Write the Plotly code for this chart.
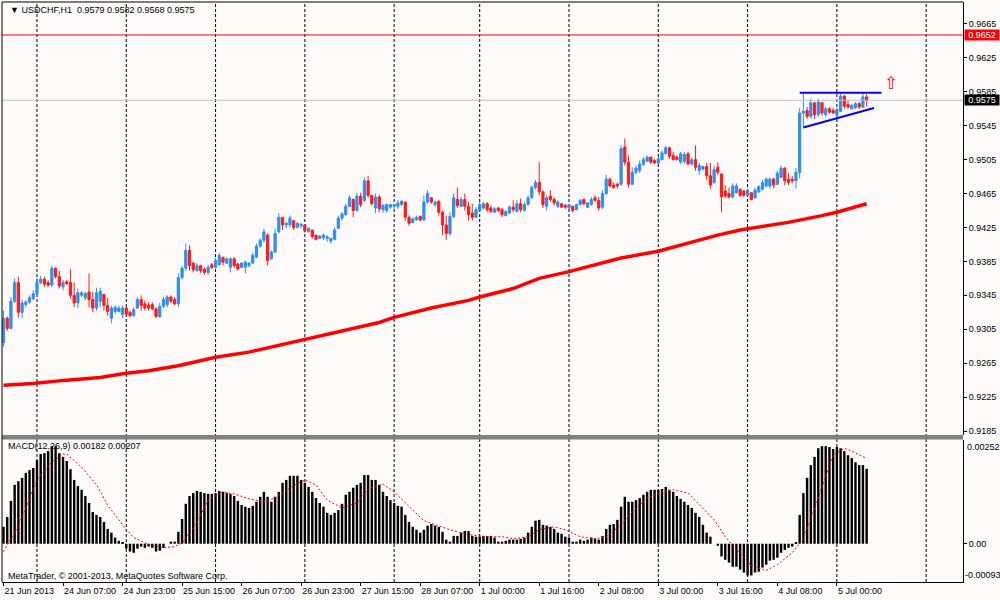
import plotly.graph_objects as go

# bar index -> label on the time axis (every 16 bars), day boundaries for the dotted grid
label_idx = [0, 16, 32, 48, 64, 80, 96, 112, 128, 144, 160, 176, 192, 208, 224]
labels = ['21 Jun 2013', '24 Jun 07:00', '24 Jun 23:00', '25 Jun 15:00', '26 Jun 07:00',
          '26 Jun 23:00', '27 Jun 15:00', '28 Jun 07:00', '1 Jul 00:00', '1 Jul 16:00',
          '2 Jul 08:00', '3 Jul 00:00', '3 Jul 16:00', '4 Jul 08:00', '5 Jul 00:00']
day_starts = [9, 33, 57, 81, 105, 128, 152, 176, 200, 224, 248]

price_ticks = [0.9185, 0.9225, 0.9265, 0.9305, 0.9345, 0.9385, 0.9425, 0.9465,
               0.9505, 0.9545, 0.9585, 0.9625, 0.9665]

# USDCHF H1 candles, in pips (0.0001)
opens_pips = [
    9289, 9318, 9306, 9338, 9360, 9325, 9334, 9337, 9341, 9347,
    9360, 9364, 9360, 9357, 9377, 9367, 9355, 9361, 9360, 9345,
    9336, 9345, 9342, 9349, 9340, 9330, 9338, 9346, 9333, 9318,
    9326, 9326, 9322, 9330, 9325, 9321, 9330, 9340, 9335, 9333,
    9334, 9329, 9320, 9332, 9334, 9343, 9340, 9335, 9366, 9377,
    9398, 9383, 9374, 9380, 9376, 9372, 9381, 9378, 9381, 9390,
    9383, 9378, 9388, 9382, 9378, 9378, 9380, 9383, 9390, 9403,
    9410, 9416, 9388, 9396, 9420, 9437, 9428, 9428, 9433, 9425,
    9427, 9428, 9420, 9422, 9416, 9412, 9413, 9412, 9409, 9411,
    9424, 9436, 9440, 9450, 9458, 9445, 9462, 9457, 9480, 9463,
    9448, 9461, 9446, 9445, 9449, 9450, 9450, 9452, 9455, 9437,
    9431, 9434, 9438, 9434, 9455, 9460, 9452, 9456, 9443, 9428,
    9418, 9438, 9458, 9450, 9458, 9450, 9442, 9437, 9445, 9448,
    9453, 9448, 9443, 9448, 9446, 9439, 9442, 9449, 9444, 9453,
    9445, 9452, 9460, 9472, 9478, 9467, 9450, 9462, 9458, 9450,
    9453, 9451, 9448, 9450, 9446, 9452, 9458, 9449, 9452, 9460,
    9457, 9449, 9465, 9482, 9475, 9476, 9476, 9520, 9502, 9476,
    9490, 9492, 9499, 9503, 9508, 9504, 9501, 9505, 9512, 9519,
    9510, 9508, 9502, 9503, 9512, 9500, 9505, 9492, 9494, 9497,
    9486, 9478, 9496, 9488, 9468, 9465, 9461, 9466, 9470, 9468,
    9463, 9466, 9460, 9467, 9470, 9474, 9474, 9482, 9476, 9484,
    9495, 9482, 9482, 9480, 9490, 9560, 9563, 9556, 9572, 9558,
    9572, 9558, 9565, 9563, 9558, 9562, 9580, 9570, 9565, 9566,
    9571, 9567, 9579]
highs_pips = [
    9327, 9320, 9343, 9365, 9367, 9340, 9339, 9345, 9351, 9365,
    9368, 9367, 9363, 9380, 9378, 9374, 9363, 9363, 9376, 9360,
    9353, 9350, 9349, 9371, 9349, 9354, 9354, 9347, 9342, 9333,
    9333, 9333, 9333, 9331, 9327, 9331, 9343, 9345, 9339, 9337,
    9337, 9331, 9336, 9343, 9345, 9345, 9343, 9371, 9380, 9406,
    9404, 9384, 9383, 9381, 9378, 9381, 9383, 9389, 9395, 9390,
    9390, 9390, 9390, 9383, 9384, 9386, 9384, 9395, 9406, 9412,
    9424, 9418, 9398, 9424, 9442, 9437, 9431, 9439, 9434, 9431,
    9430, 9429, 9425, 9422, 9416, 9416, 9418, 9416, 9413, 9425,
    9439, 9443, 9453, 9463, 9459, 9466, 9466, 9484, 9486, 9463,
    9465, 9463, 9453, 9453, 9453, 9453, 9457, 9457, 9455, 9439,
    9437, 9439, 9439, 9463, 9469, 9461, 9457, 9457, 9445, 9439,
    9443, 9465, 9472, 9461, 9465, 9455, 9453, 9449, 9455, 9455,
    9455, 9451, 9449, 9449, 9448, 9445, 9451, 9457, 9457, 9459,
    9455, 9463, 9475, 9481, 9502, 9469, 9463, 9469, 9461, 9457,
    9454, 9453, 9453, 9451, 9453, 9459, 9459, 9455, 9461, 9463,
    9461, 9469, 9487, 9484, 9478, 9478, 9522, 9530, 9510, 9496,
    9498, 9504, 9508, 9510, 9508, 9506, 9508, 9516, 9521, 9520,
    9514, 9510, 9514, 9514, 9514, 9508, 9522, 9501, 9498, 9501,
    9501, 9498, 9502, 9489, 9475, 9472, 9477, 9477, 9471, 9469,
    9471, 9466, 9472, 9475, 9481, 9484, 9484, 9484, 9492, 9498,
    9496, 9489, 9486, 9495, 9566, 9583, 9567, 9577, 9573, 9577,
    9573, 9567, 9567, 9566, 9566, 9583, 9581, 9575, 9571, 9573,
    9573, 9583, 9582]
lows_pips = [
    9284, 9303, 9305, 9336, 9319, 9318, 9331, 9335, 9339, 9345,
    9358, 9355, 9355, 9355, 9365, 9353, 9351, 9357, 9341, 9331,
    9330, 9343, 9339, 9331, 9325, 9327, 9331, 9327, 9321, 9312,
    9323, 9325, 9318, 9321, 9319, 9320, 9329, 9327, 9327, 9327,
    9327, 9318, 9318, 9330, 9331, 9336, 9333, 9331, 9364, 9374,
    9374, 9372, 9373, 9371, 9369, 9369, 9376, 9377, 9380, 9380,
    9382, 9372, 9377, 9374, 9377, 9371, 9378, 9382, 9389, 9401,
    9407, 9380, 9387, 9395, 9418, 9422, 9424, 9425, 9422, 9424,
    9424, 9419, 9419, 9412, 9410, 9411, 9410, 9408, 9406, 9410,
    9423, 9433, 9439, 9449, 9437, 9444, 9449, 9455, 9460, 9451,
    9442, 9443, 9442, 9442, 9447, 9447, 9447, 9451, 9433, 9427,
    9430, 9433, 9432, 9433, 9453, 9453, 9449, 9439, 9416, 9410,
    9415, 9436, 9448, 9449, 9445, 9433, 9433, 9436, 9444, 9446,
    9443, 9442, 9442, 9443, 9437, 9438, 9441, 9443, 9443, 9443,
    9444, 9451, 9459, 9470, 9463, 9448, 9445, 9455, 9451, 9448,
    9448, 9447, 9445, 9443, 9445, 9451, 9451, 9448, 9451, 9455,
    9445, 9447, 9463, 9472, 9471, 9472, 9474, 9498, 9472, 9475,
    9488, 9489, 9498, 9502, 9500, 9500, 9500, 9504, 9511, 9506,
    9504, 9504, 9500, 9500, 9498, 9498, 9492, 9487, 9492, 9481,
    9471, 9476, 9487, 9443, 9460, 9459, 9459, 9465, 9461, 9461,
    9462, 9457, 9459, 9466, 9469, 9472, 9471, 9471, 9475, 9483,
    9475, 9475, 9477, 9471, 9483, 9543, 9553, 9553, 9553, 9555,
    9557, 9555, 9559, 9559, 9555, 9561, 9565, 9565, 9564, 9565,
    9565, 9566, 9568]
closes_pips = [
    9318, 9306, 9338, 9360, 9325, 9336, 9337, 9342, 9347, 9360,
    9364, 9358, 9357, 9377, 9367, 9356, 9360, 9359, 9345, 9336,
    9348, 9348, 9347, 9340, 9330, 9348, 9350, 9333, 9326, 9330,
    9331, 9330, 9330, 9323, 9321, 9328, 9340, 9333, 9330, 9330,
    9329, 9320, 9332, 9340, 9343, 9338, 9335, 9366, 9377, 9398,
    9380, 9375, 9380, 9374, 9372, 9378, 9378, 9386, 9392, 9384,
    9388, 9388, 9380, 9376, 9383, 9384, 9383, 9392, 9403, 9410,
    9420, 9386, 9396, 9418, 9437, 9428, 9430, 9436, 9425, 9430,
    9429, 9421, 9424, 9414, 9411, 9415, 9416, 9414, 9412, 9422,
    9436, 9441, 9450, 9460, 9445, 9462, 9452, 9480, 9463, 9453,
    9461, 9447, 9451, 9452, 9452, 9452, 9454, 9456, 9437, 9430,
    9435, 9437, 9434, 9455, 9465, 9455, 9455, 9443, 9428, 9418,
    9438, 9460, 9451, 9458, 9450, 9440, 9437, 9446, 9452, 9453,
    9446, 9444, 9447, 9445, 9440, 9444, 9449, 9446, 9453, 9446,
    9452, 9460, 9472, 9478, 9467, 9452, 9460, 9458, 9454, 9455,
    9449, 9449, 9452, 9445, 9452, 9457, 9453, 9454, 9458, 9457,
    9448, 9465, 9482, 9474, 9472, 9474, 9518, 9502, 9476, 9490,
    9495, 9500, 9505, 9508, 9502, 9501, 9506, 9513, 9519, 9509,
    9505, 9505, 9512, 9511, 9500, 9505, 9496, 9498, 9497, 9486,
    9475, 9493, 9490, 9461, 9462, 9461, 9474, 9474, 9463, 9463,
    9469, 9458, 9469, 9473, 9478, 9482, 9482, 9475, 9489, 9495,
    9480, 9478, 9480, 9490, 9560, 9562, 9556, 9572, 9558, 9573,
    9560, 9565, 9561, 9560, 9564, 9580, 9568, 9567, 9569, 9571,
    9567, 9579, 9575]

# moving average (thick red line), read at a few bars
ma_idx = [0, 8, 17, 26, 33, 39, 47, 53, 57, 66, 80, 93, 101, 105, 115, 125, 128, 137, 144,
          152, 157, 166, 176, 186, 192, 198, 211, 220, 224, 232]
ma_pips = [9239, 9241, 9245, 9248, 9253, 9256, 9262, 9268, 9272, 9278, 9292, 9305, 9313,
           9319, 9330, 9339, 9343, 9353, 9365, 9373, 9379, 9389, 9397, 9409, 9416, 9422,
           9431, 9439, 9443, 9453]

# MACD main (histogram) and signal, in 1e-5
macd_e5 = [
    41, 65, 104, 143, 152, 160, 172, 179, 184, 203,
    218, 220, 225, 237, 237, 220, 211, 201, 181, 155,
    140, 131, 116, 99, 77, 70, 65, 53, 36, 27,
    15, 7, 2, -12, -19, -22, -12, -7, -10, -7,
    -10, -19, -17, -10, 0, 5, 5, 29, 60, 97,
    116, 123, 128, 126, 123, 121, 121, 123, 128, 126,
    123, 121, 116, 104, 94, 90, 87, 92, 102, 114,
    126, 114, 102, 114, 126, 148, 155, 165, 165, 165,
    155, 148, 138, 126, 111, 99, 90, 75, 70, 75,
    82, 97, 119, 126, 136, 143, 148, 167, 167, 155,
    155, 143, 126, 116, 106, 99, 92, 90, 70, 53,
    41, 34, 27, 34, 44, 48, 44, 41, 29, 10,
    5, 19, 19, 27, 31, 31, 19, 17, 17, 19,
    19, 19, 15, 5, 5, 7, 10, 10, 10, 12,
    15, 27, 41, 56, 58, 46, 44, 41, 36, 27,
    24, 17, 15, 5, 5, 10, 7, 10, 15, 12,
    10, 19, 36, 46, 48, 58, 90, 114, 102, 102,
    106, 111, 119, 126, 131, 131, 131, 133, 138, 131,
    126, 116, 109, 102, 94, 87, 75, 65, 46, 27,
    17, 0, -5, -31, -39, -46, -56, -56, -63, -70,
    -77, -77, -70, -68, -58, -51, -41, -39, -34, -22,
    -15, -10, -7, 2, 70, 123, 160, 191, 211, 232,
    237, 237, 235, 230, 235, 232, 225, 215, 208, 198,
    191, 191, 182]
signal_idx = [0, 3, 5, 9, 13, 16, 17, 21, 25, 28, 32, 35, 39, 43, 46, 48, 52, 55, 59, 62,
              66, 70, 73, 77, 81, 84, 87, 91, 95, 98, 102, 105, 110, 113, 116, 120, 125,
              130, 134, 137, 141, 144, 148, 151, 155, 159, 162, 166, 169, 173, 177, 180,
              184, 187, 191, 194, 198, 201, 205, 208, 212, 215, 217, 220, 223, 226, 228, 232]
signal_e5 = [-19, 27, 65, 155, 198, 218, 218, 186, 143, 94, 46, 15, -2, -10, -7, 2, 51, 106,
             126, 121, 109, 102, 111, 136, 155, 143, 106, 87, 99, 133, 145, 126, 82, 56, 46,
             34, 22, 17, 17, 12, 17, 34, 41, 34, 17, 12, 17, 46, 77, 111, 126, 131, 123, 94,
             58, 17, -22, -53, -65, -51, -22, 12, 60, 140, 215, 232, 225, 207]

# drawn triangle and arrow
tri_top_idx = [214, 236]
tri_top = [0.9584, 0.9584]
tri_low_idx = [215, 234]
tri_low = [0.9543, 0.9566]
arrow_idx = 238.6
arrow_price = 0.9595

last_price = 0.9575
alert_price = 0.9652

FONT = 'Liberation Sans'
BG = '#FFFAFA'

idx = list(range(len(closes_pips)))
opens = [v / 10000 for v in opens_pips]
highs = [v / 10000 for v in highs_pips]
lows = [v / 10000 for v in lows_pips]
closes = [v / 10000 for v in closes_pips]
ma = [v / 10000 for v in ma_pips]
macd = [v / 100000 for v in macd_e5]
signal = [v / 100000 for v in signal_e5]

fig = go.Figure()

fig.add_trace(go.Scatter(x=ma_idx, y=ma, mode='lines', line=dict(color='#FF0000', width=3.5),
                         yaxis='y', hoverinfo='skip'))
fig.add_trace(go.Candlestick(x=idx, open=opens, high=highs, low=lows, close=closes, yaxis='y',
                             increasing=dict(line=dict(color='#2E8FF0', width=1), fillcolor='#2E8FF0'),
                             decreasing=dict(line=dict(color='#FF1A1A', width=1), fillcolor='#FF1A1A'),
                             whiskerwidth=0, hoverinfo='skip'))
fig.add_trace(go.Scatter(x=tri_top_idx, y=tri_top, mode='lines', line=dict(color='#0000FF', width=2),
                         yaxis='y', hoverinfo='skip'))
fig.add_trace(go.Scatter(x=tri_low_idx, y=tri_low, mode='lines', line=dict(color='#0000FF', width=2),
                         yaxis='y', hoverinfo='skip'))

fig.add_trace(go.Bar(x=idx, y=macd, marker=dict(color='#000000', line=dict(width=0)),
                     yaxis='y2', hoverinfo='skip'))
fig.add_trace(go.Scatter(x=signal_idx, y=signal, mode='lines',
                         line=dict(color='#FF0000', width=1, dash='2px,2px'),
                         yaxis='y2', hoverinfo='skip'))

# pixel layout: plot area x 2..963, y 2..582; main pane down to 435, MACD pane from 440
top, bottom = 2, 582
h = bottom - top


def py(pix):
    return (bottom - pix) / h


shapes = []
for d in day_starts:
    shapes.append(dict(type='line', xref='x', yref='paper', x0=d, x1=d, y0=0, y1=1,
                       line=dict(color='#000000', width=1, dash='3px,2px'), layer='below'))
shapes.append(dict(type='line', xref='paper', yref='y', x0=0, x1=1, y0=alert_price, y1=alert_price,
                   line=dict(color='#FF0000', width=1)))
shapes.append(dict(type='line', xref='paper', yref='y', x0=0, x1=1, y0=last_price, y1=last_price,
                   line=dict(color='#C0C0C0', width=1)))
shapes.append(dict(type='rect', xref='paper', yref='paper', x0=0, x1=1, y0=py(439.5), y1=py(435),
                   fillcolor='#808080', line=dict(width=0)))
shapes.append(dict(type='line', xref='paper', yref='paper', x0=0, x1=0, y0=0, y1=1,
                   line=dict(color='#000000', width=1)))
shapes.append(dict(type='line', xref='paper', yref='paper', x0=0, x1=1, y0=1, y1=1,
                   line=dict(color='#000000', width=1)))

small = dict(family=FONT, size=9, color='#000000')
annotations = [
    dict(xref='paper', yref='paper', x=6 / 961, y=py(10), xanchor='left', yanchor='middle',
         text='▼ USDCHF,H1  0.9579 0.9582 0.9568 0.9575', showarrow=False, font=small),
    dict(xref='paper', yref='paper', x=4 / 961, y=py(446), xanchor='left', yanchor='middle',
         text='MACD(12,26,9) 0.00182 0.00207', showarrow=False, font=small),
    dict(xref='paper', yref='paper', x=4 / 961, y=py(576), xanchor='left', yanchor='middle',
         text='MetaTrader, © 2001-2013, MetaQuotes Software Corp.', showarrow=False, font=small),
    dict(xref='paper', yref='y', x=1, y=alert_price, xanchor='left', yanchor='middle', xshift=1,
         text='0.9652', showarrow=False, font=dict(family=FONT, size=9, color='#FFFFFF'),
         bgcolor='#FF0000', borderpad=0, width=34),
    dict(xref='paper', yref='y', x=1, y=last_price, xanchor='left', yanchor='middle', xshift=1,
         text='0.9575', showarrow=False, font=dict(family=FONT, size=9, color='#FFFFFF'),
         bgcolor='#000000', borderpad=0, width=34),
    dict(xref='paper', yref='y2', x=1, y=0.00252, xanchor='left', yanchor='top', xshift=2,
         text='0.00252', showarrow=False, font=small),
    dict(xref='paper', yref='y2', x=1, y=-0.00093, xanchor='left', yanchor='bottom', xshift=0,
         text='-0.00093', showarrow=False, font=small),
    dict(xref='x', yref='y', x=arrow_idx, y=arrow_price, text='⇧', showarrow=False,
         font=dict(family='DejaVu Sans', size=17, color='#FF0000')),
]

fig.update_layout(
    width=1000, height=600,
    margin=dict(l=2, r=37, t=top, b=600 - bottom, autoexpand=False),
    paper_bgcolor=BG, plot_bgcolor=BG,
    showlegend=False, hovermode=False, bargap=0.35, boxgap=0.15,
    font=small,
    shapes=shapes, annotations=annotations,
    xaxis=dict(anchor='y2', range=[-0.4, 257.9], tickvals=label_idx, ticktext=labels,
               ticklabelposition='outside right', tickangle=0, automargin=False,
               ticks='outside', ticklen=3, tickcolor='#000000',
               showline=True, linecolor='#000000', linewidth=1, showgrid=False, zeroline=False,
               rangeslider=dict(visible=False), tickfont=small),
    yaxis=dict(domain=[py(435), 1], range=[0.91803, 0.96909], side='right', anchor='x',
               tickvals=price_ticks, ticktext=['%.4f' % v for v in price_ticks], automargin=False,
               ticks='outside', ticklen=3, tickcolor='#000000', showline=True,
               linecolor='#000000', showgrid=False, zeroline=False, tickfont=small),
    yaxis2=dict(domain=[0, py(440)], range=[-0.00093, 0.00252], side='right', anchor='x',
                tickvals=[0], ticktext=['0.00'], ticks='outside', ticklen=3, tickcolor='#000000',
                automargin=False, showline=True, linecolor='#000000', showgrid=False,
                zeroline=False, tickfont=small),
)

# the page opens with the browser's default body margin; drop it so the chart sits at 0,0
fig.write_html("out.html", config={'displayModeBar': False},
               post_script="document.body.style.margin = '0';")
